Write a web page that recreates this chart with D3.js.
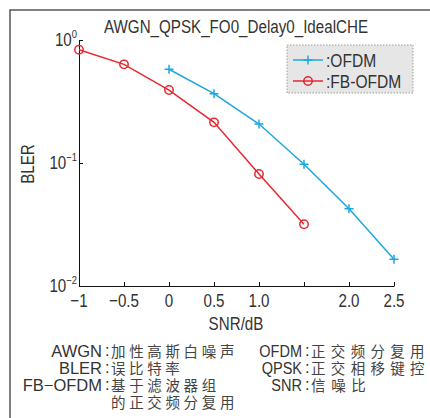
<!DOCTYPE html>
<html>
<head>
<meta charset="utf-8">
<script src="https://cdn.jsdelivr.net/npm/d3@7"></script>
<style>
  body { margin: 0; background: #fff; }
  text { font-family: "Liberation Sans", Arial, sans-serif; fill: #333; }
  .note { font-size: 16.5px; }
  .cjk { font-family: "Noto Sans CJK SC", sans-serif; font-size: 14.5px; fill: #444; }
</style>
</head>
<body>
<div id="chart"></div>
<script>
const titleText = "AWGN_QPSK_FO0_Delay0_IdealCHE";
const snrTicks = [-1, -0.5, 0, 0.5, 1.0, 1.5, 2.0, 2.5];
const snrTickLabels = ["\u22121", "\u22120.5", "0", "0.5", "1.0", "", "2.0", "2.5"];
const blerTicks = [1, 0.1, 0.01];
const blerExponents = ["0", "\u22121", "\u22122"];

const ofdmSnr = [0, 0.5, 1.0, 1.5, 2.0, 2.5];
const ofdmBler = [0.578, 0.366, 0.2075, 0.0976, 0.0425, 0.0165];
const fbSnr = [-1, -0.5, 0, 0.5, 1.0, 1.5];
const fbBler = [0.834, 0.634, 0.392, 0.214, 0.0814, 0.0318];

const legendNames = [":OFDM", ":FB-OFDM"];
const notesLeft = [["AWGN", "加性高斯白噪声"], ["BLER", "误比特率"], ["FB\u2212OFDM", "基于滤波器组"], ["", "的正交频分复用"]];
const notesRight = [["OFDM", "正交频分复用"], ["QPSK", "正交相移键控"], ["SNR", "信噪比"]];

const W = 430, H = 418;
const margin = {top: 40, right: 36, bottom: 132, left: 79};
const ofdmColor = "#1ca7e3", fbColor = "#e8272f";
const squeeze = 0.82; // smalle letter zoals in het origineel

const svg = d3.select("#chart").append("svg")
    .attr("width", W).attr("height", H);

// tekst horizontaal smaller maken
function narrowText(parent, px, py, size, sx = squeeze) {
    return parent.append("text")
        .attr("transform", `translate(${px},${py}) scale(${sx},1)`)
        .attr("font-size", size);
}

// outer frame (top and left edges only)
svg.append("path")
    .attr("d", `M10,${H} L10,10 L${W},10`)
    .attr("fill", "none").attr("stroke", "#555").attr("stroke-width", 1.5);

const x = d3.scaleLinear().domain([-1, 2.5]).range([margin.left, W - margin.right]);
const y = d3.scaleLog().domain([0.01, 1]).range([H - margin.bottom, margin.top]);

const y0 = H - margin.bottom;

// x-as
const xAxis = svg.append("g").attr("transform", `translate(0,${y0})`)
    .call(d3.axisBottom(x).tickValues(snrTicks).tickSize(-4).tickSizeOuter(0).tickFormat(""));
xAxis.select(".domain").attr("stroke", "#111");
xAxis.selectAll(".tick line").attr("stroke", "#111");

snrTicks.forEach((d, i) => {
    if (!snrTickLabels[i]) return;
    narrowText(svg, x(d), y0 + 21, 18.5)
        .attr("text-anchor", "middle")
        .text(snrTickLabels[i]);
});

// y-as
const yAxis = svg.append("g").attr("transform", `translate(${margin.left},0)`)
    .call(d3.axisLeft(y).tickValues(blerTicks).tickSize(-4).tickSizeOuter(0).tickFormat(""));
yAxis.select(".domain").attr("stroke", "#111");
yAxis.selectAll(".tick line").attr("stroke", "#111");

blerTicks.forEach((d, i) => {
    const t = narrowText(svg, margin.left - 2, y(d) + 6, 18.5).attr("text-anchor", "end");
    t.append("tspan").text("10");
    t.append("tspan").attr("dy", -8).attr("font-size", 11.5).text(blerExponents[i]);
});

// titels
narrowText(svg, 236, 33, 18.5)
    .attr("text-anchor", "middle").attr("fill", "#444")
    .text(titleText);
narrowText(svg, 236, 330, 18.5)
    .attr("text-anchor", "middle").text("SNR/dB");
svg.append("text").attr("transform", `translate(34,164) rotate(-90) scale(${squeeze},1)`)
    .attr("text-anchor", "middle").attr("font-size", 18.5).text("BLER");

// lijnen
const line = d3.line().x(d => x(d[0])).y(d => y(d[1]));
const ofdmPts = ofdmSnr.map((s, i) => [s, ofdmBler[i]]);
const fbPts = fbSnr.map((s, i) => [s, fbBler[i]]);

svg.append("path").datum(ofdmPts)
    .attr("fill", "none").attr("stroke", ofdmColor).attr("stroke-width", 1.5)
    .attr("d", line);
svg.append("path").datum(fbPts)
    .attr("fill", "none").attr("stroke", fbColor).attr("stroke-width", 1.5)
    .attr("d", line);

function plusPath(cx, cy, r) {
    return `M${cx - r},${cy} L${cx + r},${cy} M${cx},${cy - r} L${cx},${cy + r}`;
}

svg.selectAll(".plus").data(ofdmPts).enter().append("path")
    .attr("class", "plus")
    .attr("d", d => plusPath(x(d[0]), y(d[1]), 4.5))
    .attr("stroke", ofdmColor).attr("stroke-width", 1.5).attr("fill", "none");

svg.selectAll(".circ").data(fbPts).enter().append("circle")
    .attr("class", "circ")
    .attr("cx", d => x(d[0])).attr("cy", d => y(d[1])).attr("r", 4.2)
    .attr("stroke", fbColor).attr("stroke-width", 1.5).attr("fill", "none");

// legenda
const lg = svg.append("g");
lg.append("rect").attr("x", 287).attr("y", 45).attr("width", 126).attr("height", 48)
    .attr("fill", "#e6e6e6").attr("stroke", "#888").attr("stroke-width", 0.8)
    .attr("stroke-dasharray", "1.5,1.5");
const legendColors = [ofdmColor, fbColor];
legendNames.forEach((name, i) => {
    const ly = 60 + i * 21;
    lg.append("line").attr("x1", 293).attr("x2", 323).attr("y1", ly).attr("y2", ly)
        .attr("stroke", legendColors[i]).attr("stroke-width", 1.5);
    if (i === 0) {
        lg.append("path").attr("d", plusPath(308, ly, 4.5))
            .attr("stroke", ofdmColor).attr("stroke-width", 1.5);
    } else {
        lg.append("circle").attr("cx", 308).attr("cy", ly).attr("r", 4.2)
            .attr("fill", "none").attr("stroke", fbColor).attr("stroke-width", 1.5);
    }
    narrowText(lg, 326, ly + 6.5, 19).text(name);
});

// verklaring van afkortingen
function notes(rows, colonX, charStep, sx) {
    rows.forEach((r, i) => {
        const by = 357 + i * 17;
        if (r[0]) {
            narrowText(svg, colonX - 3, by, 16.5, sx).attr("class", "note")
                .attr("text-anchor", "end").text(r[0]);
            svg.append("text").attr("class", "note").attr("x", colonX).attr("y", by - 1)
                .attr("font-size", 12).text(":");
        }
        svg.append("text").attr("class", "cjk").attr("x", colonX + 6).attr("y", by)
            .attr("textLength", r[1].length * charStep - 4)
            .attr("lengthAdjust", "spacing")
            .text(r[1]);
    });
}
notes(notesLeft, 105, 18.2, 1);
notes(notesRight, 305, 19.6, 0.88);
</script>
</body>
</html>
